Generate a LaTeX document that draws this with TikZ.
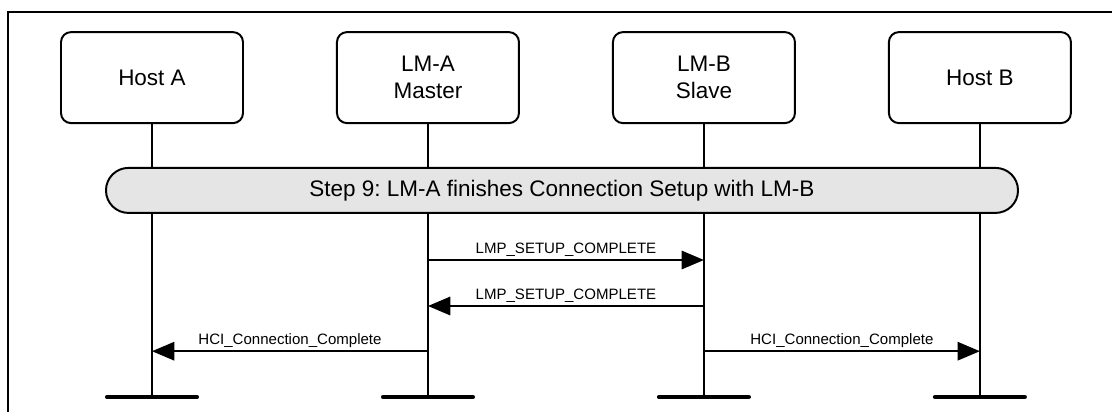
\documentclass[tikz,border=0pt]{standalone}
\usepackage{fontspec}
\setmainfont{Liberation Sans}
\usetikzlibrary{positioning,arrows.meta}
\tikzset{
  >={Triangle[length=0.56cm,width=0.46cm]},
  entity/.style={draw, rounded corners=0.25cm, line width=1.4pt, minimum width=4.55cm,
    minimum height=2.275cm, align=center, font=\fontsize{16}{19}\selectfont},
  life/.style={line width=1.6pt},
  lifeend/.style={line width=3.2pt, line cap=round},
  phase/.style={draw, fill=gray!20, line width=1.4pt, rounded corners=0.56cm,
    minimum width=22.8cm, minimum height=1.125cm, font=\fontsize{16}{19}\selectfont},
  msg/.style={->, line width=1.5pt},
  msglabel/.style={anchor=base, yshift=0.175cm, inner sep=0pt, font=\fontsize{10.7}{12}\selectfont},
}
\frenchspacing

\begin{document}
\begin{tikzpicture}[node distance=2.3cm]
    \useasboundingbox (0,0) rectangle (27.8,-10.3);
    \draw[line width=1.2pt] (0.2,-10.3) -- (0.2,-0.3) -- (27.8,-0.3);
    \node[entity] (hostA) at (3.8,-1.94) {Host A};
    \node[entity] (lmA) [right=of hostA] {LM-A\\Master};
    \node[entity] (lmB) [right=of lmA] {LM-B\\Slave};
    \node[entity] (hostB) [right=of lmB] {Host B};
    \coordinate (bottom) at (0,-9.925);
    \foreach \n in {hostA,lmA,lmB,hostB} {
      \draw[life] (\n.south) -- (\n |- bottom);
      \draw[lifeend] ([xshift=-1.12cm]\n |- bottom) -- ([xshift=1.12cm]\n |- bottom);
    }
    \node[phase] (step) at (14.05,-4.76) {Step 9: LM-A finishes Connection Setup with LM-B};
    \coordinate (m1) at (0,-6.5);
    \coordinate (m2) at (0,-7.65);
    \coordinate (m3) at (0,-8.78);
    \draw[msg] (lmA |- m1) -- node[msglabel] {LMP\_SETUP\_COMPLETE} (lmB |- m1);
    \draw[msg] (lmB |- m2) -- node[msglabel] {LMP\_SETUP\_COMPLETE} (lmA |- m2);
    \draw[msg] (lmA |- m3) -- node[msglabel] {HCI\_Connection\_Complete} (hostA |- m3);
    \draw[msg] (lmB |- m3) -- node[msglabel] {HCI\_Connection\_Complete} (hostB |- m3);
\end{tikzpicture}
\end{document}
